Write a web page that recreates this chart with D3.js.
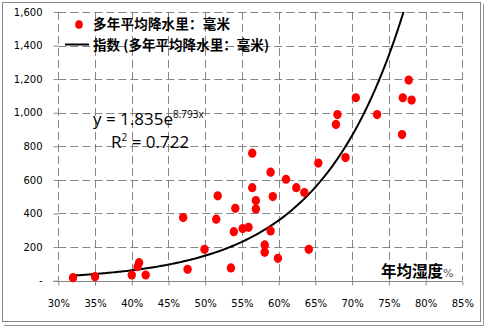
<!DOCTYPE html>
<html><head><meta charset="utf-8">
<script src="https://cdn.jsdelivr.net/npm/d3@7/dist/d3.min.js"></script>
<style>
html,body{margin:0;padding:0;background:#fff;}
svg{display:block;}
</style></head>
<body>
<svg id="chart" width="485" height="329"></svg>
<script>
// ---- data ----
const humidity = [0.320,0.350,0.400,0.408,0.410,0.419,0.470,0.476,0.499,0.515,
                  0.517,0.535,0.539,0.541,0.551,0.559,0.564,0.564,0.569,0.569,
                  0.581,0.581,0.589,0.589,0.592,0.599,0.610,0.624,0.635,0.641,
                  0.654,0.678,0.680,0.691,0.705,0.734,0.768,0.769,0.777,0.781];
const rainfall = [18,24,34,83,107,34,376,68,187,366,
                  505,76,292,431,310,318,554,759,477,427,
                  213,169,646,296,501,133,604,554,525,187,
                  700,930,989,733,1089,989,870,1089,1194,1075];
const xTicks = [0.30,0.35,0.40,0.45,0.50,0.55,0.60,0.65,0.70,0.75,0.80,0.85];
const xTickLabels = ["30%","35%","40%","45%","50%","55%","60%","65%","70%","75%","80%","85%"];
const yTicks = [0,200,400,600,800,1000,1200,1400,1600];
const yTickLabels = ["-","200","400","600","800","1,000","1,200","1,400","1,600"];
const trendA = 1.835, trendB = 8.793;
const seriesName = "多年平均降水里：毫米";
const trendName = "指数 (多年平均降水里：毫米)";
const xTitle = "年均湿度";

// ---- layout ----
const svg = d3.select("#chart");
const L = 58.3, R = 462.3, T = 11.9, B = 280.7;
const x = d3.scaleLinear().domain([0.30,0.85]).range([L,R]);
const y = d3.scaleLinear().domain([0,1600]).range([B,T]);
const grey = "#868686";

// outer border with shadow
svg.append("path").attr("d","M4,325.5 H483.5 V4").attr("fill","none").attr("stroke","#9a9a9a").attr("stroke-width",1);
svg.append("rect").attr("x",2.5).attr("y",2.5).attr("width",478).attr("height",319)
  .attr("fill","#fff").attr("stroke",grey).attr("stroke-width",1);

// gridlines
const g = svg.append("g");
g.selectAll("line.hg").data(yTicks.filter(d=>d>0)).join("line")
  .attr("x1",L).attr("x2",R).attr("y1",d=>Math.round(y(d))+0.5).attr("y2",d=>Math.round(y(d))+0.5)
  .attr("stroke",grey).attr("stroke-dasharray","8,4");
g.selectAll("line.vg").data(xTicks).join("line")
  .attr("x1",d=>Math.round(x(d))+0.5).attr("x2",d=>Math.round(x(d))+0.5)
  .attr("y1",T).attr("y2",B)
  .attr("stroke",grey).attr("stroke-dasharray","8,4");

// axes
const xAxis = d3.axisBottom(x).tickValues(xTicks).tickSize(4).tickFormat((d,i)=>xTickLabels[i]).tickPadding(14);
const xa = svg.append("g").attr("transform",`translate(0,${Math.round(B)+0.5})`).call(xAxis);
xa.select(".domain").attr("stroke",grey).attr("d",`M${L-5},0H${R}`);
xa.selectAll(".tick line").attr("stroke",grey);
xa.selectAll("text").attr("font-family","DejaVu Sans").attr("font-size",10).attr("fill","#000");

const yAxis = d3.axisLeft(y).tickValues(yTicks).tickSize(5).tickFormat((d,i)=>yTickLabels[i]).tickPadding(11);
const ya = svg.append("g").attr("transform",`translate(${Math.round(L)+0.5},0)`).call(yAxis);
ya.select(".domain").remove();
ya.selectAll(".tick line").attr("stroke",grey);
ya.selectAll("text").attr("font-family","DejaVu Sans").attr("font-size",10).attr("fill","#000");

// trendline
svg.append("clipPath").attr("id","clip").append("rect").attr("x",L).attr("y",T).attr("width",R-L).attr("height",B-T);
const xMin = d3.min(humidity);
const xEnd = Math.min(0.85, Math.log(1700/trendA)/trendB);
const curve = d3.range(0,201).map(i=>{const h = xMin + (xEnd-xMin)*i/200; return [h, trendA*Math.exp(trendB*h)];});
svg.append("path").attr("clip-path","url(#clip)")
  .attr("d", d3.line().x(d=>x(d[0])).y(d=>y(d[1]))(curve))
  .attr("fill","none").attr("stroke","#000").attr("stroke-width",2);

// points
svg.append("g").selectAll("ellipse").data(humidity.map((h,i)=>[h,rainfall[i]])).join("ellipse")
  .attr("cx",d=>x(d[0])).attr("cy",d=>y(d[1])).attr("rx",4.2).attr("ry",4.6).attr("fill","#ff0000");

// legend
svg.append("ellipse").attr("cx",79).attr("cy",24.5).attr("rx",3.8).attr("ry",4.3).attr("fill","#ff0000");
svg.append("line").attr("x1",65).attr("x2",89).attr("y1",44.5).attr("y2",44.5).attr("stroke","#000").attr("stroke-width",2);
const lg = svg.append("g").attr("font-family","Noto Sans CJK SC").attr("font-weight","bold").attr("font-size",13.5).attr("fill","#000");
lg.append("text").attr("x",93).attr("y",29).attr("textLength",137).attr("lengthAdjust","spacing").text(seriesName);
lg.append("text").attr("x",93).attr("y",50).attr("textLength",176).attr("lengthAdjust","spacing").text(trendName);

// equation
const eq = svg.append("g").attr("font-family","Open Sans").attr("fill","#000");
const t1 = eq.append("text").attr("x",93).attr("y",125).attr("font-size",17);
t1.append("tspan").text(`y = ${trendA}e`);
t1.append("tspan").attr("dy",-7).attr("font-size",10).text(`${trendB}x`);
const t2 = eq.append("text").attr("x",111).attr("y",148).attr("font-size",17);
t2.append("tspan").text("R");
t2.append("tspan").attr("dy",-7).attr("font-size",10).text("2");
t2.append("tspan").attr("dy",7).text(" = 0.722");

// x title
const xt = svg.append("text").attr("x",381).attr("y",277);
xt.append("tspan").attr("font-family","Noto Sans CJK SC").attr("font-weight","bold").attr("font-size",15.5).attr("fill","#000").text(xTitle);
xt.append("tspan").attr("font-family","DejaVu Sans").attr("font-size",11).attr("fill","#555").text("%");
</script>
</body></html>
